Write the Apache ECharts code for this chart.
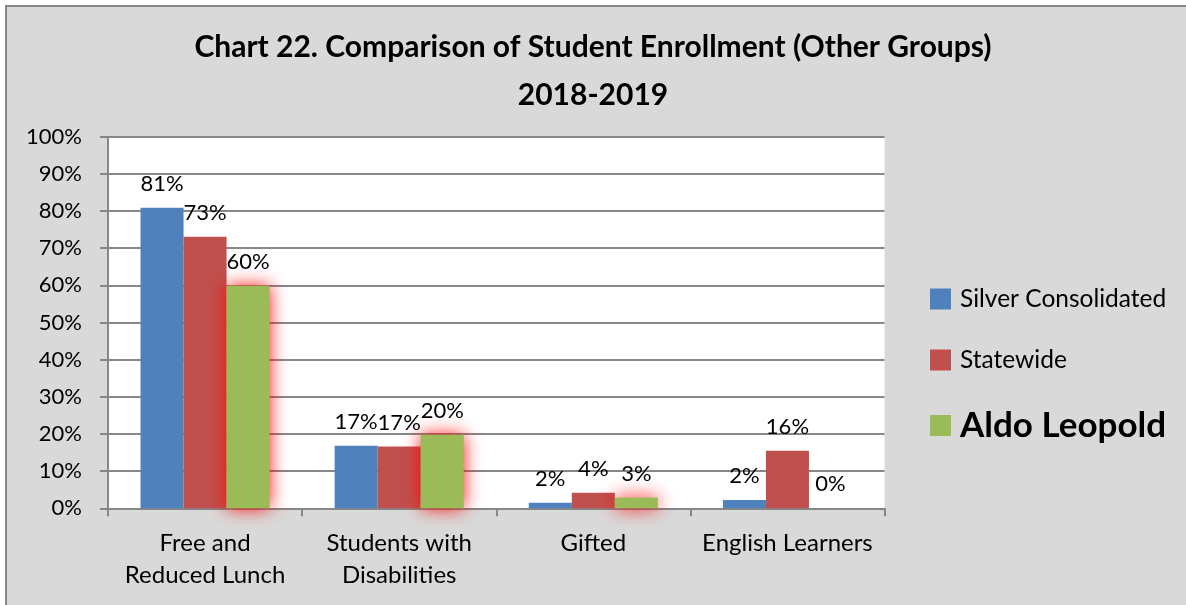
<!DOCTYPE html>
<html>
<head>
<meta charset="utf-8">
<script src="https://cdn.jsdelivr.net/npm/echarts@6/dist/echarts.min.js"></script>
<style>
html,body{margin:0;padding:0;background:#ffffff;}
#chart{width:1186px;height:605px;}
</style>
</head>
<body>
<div id="chart"></div>
<script>
var categories = ['Free and\nReduced Lunch', 'Students with\nDisabilities', 'Gifted', 'English Learners'];
var seriesNames = ['Silver Consolidated', 'Statewide', 'Aldo Leopold'];
var silverConsolidated = [80.9, 16.8, 1.5, 2.2];
var statewide = [73.1, 16.6, 4.2, 15.5];
var aldoLeopold = [59.9, 19.8, 2.9, 0];
var yTicks = { min: 0, max: 100, interval: 10 };
var titleLines = ['Chart 22. Comparison of Student Enrollment (Other Groups)', '2018-2019'];

var colors = ['#4f81bd', '#c0504d', '#9bbb59'];
var fontFam = 'Lato';

var chart = echarts.init(document.getElementById('chart'), null, { renderer: 'canvas' });

function labelCfg() {
  return {
    show: true, position: 'top', distance: 13,
    color: '#000', fontFamily: fontFam, fontSize: 22,
    formatter: function (p) { return Math.round(p.value) + '%'; }
  };
}

var option = {
  backgroundColor: 'transparent',
  animation: false,
  graphic: [{
    type: 'rect', z: -10, silent: true,
    shape: { x: 6, y: 6, width: 1300, height: 800 },
    style: { fill: '#d9d9d9', stroke: '#878787', lineWidth: 2 }
  }],
  title: {
    text: titleLines.join('\n'),
    left: 'center', top: 18, padding: [5, 0, 5, 14],
    textStyle: { fontFamily: fontFam, fontWeight: 'bold', fontSize: 30, color: '#000', lineHeight: 48 }
  },
  legend: [0, 1, 2].map(function (i) {
    return {
      data: [{ name: seriesNames[i], itemStyle: { color: colors[i] } }],
      left: 925, top: [281.5, 342.5, 403][i],
      itemWidth: 21, itemHeight: 21,
      icon: 'rect',
      textStyle: i === 2
        ? { fontFamily: fontFam, fontSize: 35, fontWeight: 'bold', color: '#000', lineHeight: 21, padding: [0, 0, 0, 4] }
        : { fontFamily: fontFam, fontSize: 24.5, color: '#000', lineHeight: 21, padding: [0, 0, 0, 4] },
      selectedMode: false
    };
  }),
  grid: {
    left: 108, right: 301.5, top: 136.7, bottom: 96.7,
    show: true, backgroundColor: '#ffffff', borderWidth: 0
  },
  xAxis: {
    type: 'category', data: categories,
    axisLine: { lineStyle: { color: '#878787', width: 2 } },
    axisTick: { show: true, length: 8, lineStyle: { color: '#878787', width: 2 } },
    axisLabel: { color: '#000', fontFamily: fontFam, fontSize: 24, lineHeight: 32.5, margin: 18.5, interval: 0 }
  },
  yAxis: {
    type: 'value', min: yTicks.min, max: yTicks.max, interval: yTicks.interval,
    axisLine: { show: true, lineStyle: { color: '#878787', width: 2 } },
    axisTick: { show: true, length: 8, lineStyle: { color: '#878787', width: 2 } },
    splitLine: { lineStyle: { color: '#878787', width: 2 } },
    axisLabel: { color: '#000', fontFamily: fontFam, fontSize: 22, margin: 26, formatter: '{value}%' }
  },
  series: [
    { name: seriesNames[0], type: 'bar', data: silverConsolidated, barGap: '0%', barCategoryGap: '33.5%',
      itemStyle: { color: colors[0] }, label: labelCfg() },
    { name: seriesNames[1], type: 'bar', data: statewide, barGap: '0%', barCategoryGap: '33.5%',
      itemStyle: { color: colors[1] }, label: labelCfg() },
    { name: seriesNames[2], type: 'bar', data: aldoLeopold, barGap: '0%', barCategoryGap: '33.5%',
      itemStyle: { color: colors[2], shadowBlur: 18, shadowColor: 'rgba(255,0,0,0.95)' }, label: labelCfg() }
  ]
};
chart.setOption(option);
</script>
</body>
</html>
